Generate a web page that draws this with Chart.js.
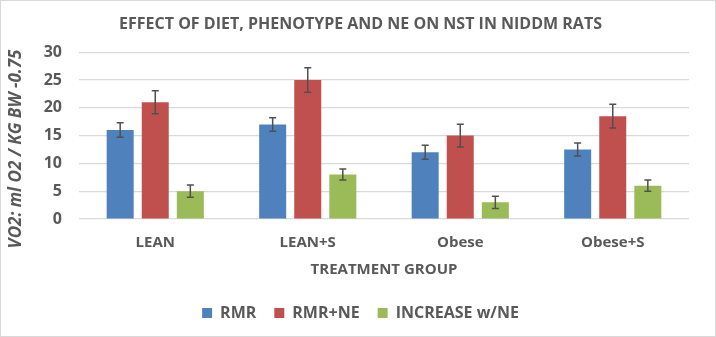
<!DOCTYPE html>
<html>
<head>
<meta charset="utf-8">
<script src="https://cdn.jsdelivr.net/npm/chart.js@4"></script>
<style>
html,body{margin:0;padding:0;background:#fff;}
#wrap{width:716px;height:337px;position:relative;}
</style>
</head>
<body>
<div id="wrap"><canvas id="c" width="716" height="337"></canvas></div>
<script>
const categories = ['LEAN', 'LEAN+S', 'Obese', 'Obese+S'];
const seriesNames = ['RMR', 'RMR+NE', 'INCREASE w/NE'];
const rmr = [16, 17, 12, 12.5];
const rmrNe = [21, 25, 15, 18.5];
const increase = [5, 8, 3, 6];
const rmrErr = [1.3, 1.2, 1.25, 1.15];
const rmrNeErr = [2.05, 2.2, 2.05, 2.15];
const increaseErr = [1.1, 1.0, 1.1, 1.0];
const yTicks = [0, 5, 10, 15, 20, 25, 30];
const yTitle = 'VO2: ml O2 / KG BW -0.75';

const FONT = "'Open Sans', sans-serif";
const GRAY = '#595959';

const errorBars = {
  id: 'errorBars',
  afterDatasetsDraw(chart) {
    const ctx = chart.ctx;
    const y = chart.scales.y;
    ctx.save();
    ctx.strokeStyle = '#505050';
    ctx.lineWidth = 1.5;
    chart.data.datasets.forEach((ds, i) => {
      const meta = chart.getDatasetMeta(i);
      meta.data.forEach((bar, j) => {
        const v = ds.data[j], e = ds.errors[j];
        const top = y.getPixelForValue(v + e);
        const bot = y.getPixelForValue(v - e);
        const x = bar.x;
        ctx.beginPath();
        ctx.moveTo(x, top); ctx.lineTo(x, bot);
        ctx.moveTo(x - 3.5, top); ctx.lineTo(x + 3.5, top);
        ctx.moveTo(x - 3.5, bot); ctx.lineTo(x + 3.5, bot);
        ctx.stroke();
      });
    });
    ctx.restore();
  }
};

const frameAndYTitle = {
  id: 'frameAndYTitle',
  afterDraw(chart) {
    const ctx = chart.ctx;
    ctx.save();
    ctx.strokeStyle = '#d9d9d9';
    ctx.lineWidth = 1;
    ctx.strokeRect(0.5, 0.5, chart.width - 1, chart.height - 1);
    ctx.translate(16, 149);
    ctx.rotate(-Math.PI / 2);
    ctx.fillStyle = GRAY;
    ctx.font = "italic bold 17px " + FONT;
    ctx.textAlign = 'center';
    ctx.textBaseline = 'middle';
    ctx.fillText(yTitle, 0, 0);
    ctx.restore();
  }
};

new Chart(document.getElementById('c'), {
  type: 'bar',
  data: {
    labels: categories,
    datasets: [
      { label: seriesNames[0], data: rmr, errors: rmrErr, backgroundColor: '#4F81BD' },
      { label: seriesNames[1], data: rmrNe, errors: rmrNeErr, backgroundColor: '#C0504D' },
      { label: seriesNames[2], data: increase, errors: increaseErr, backgroundColor: '#9BBB59' }
    ]
  },
  options: {
    responsive: false,
    animation: false,
    devicePixelRatio: 1,
    categoryPercentage: 0.69,
    barPercentage: 0.77,
    layout: { padding: { left: 32, right: 27, top: 0, bottom: 6 } },
    plugins: {
      title: {
        display: true,
        text: 'EFFECT OF DIET, PHENOTYPE AND NE ON NST IN NIDDM RATS',
        color: GRAY,
        font: { family: FONT, size: 16, weight: 'bold' },
        padding: { top: 15, bottom: 18 }
      },
      legend: {
        position: 'bottom',
        labels: {
          color: GRAY,
          font: { family: FONT, size: 16, weight: 'bold' },
          boxWidth: 10, boxHeight: 10, padding: 18
        }
      },
      tooltip: { enabled: false }
    },
    scales: {
      x: {
        afterFit(scale) { scale.height = 68; },
        grid: { display: false },
        border: { display: false },
        ticks: { color: GRAY, font: { family: FONT, size: 15, weight: 'bold' }, padding: 7 },
        title: {
          display: true, text: 'TREATMENT GROUP', color: GRAY,
          font: { family: FONT, size: 15, weight: 'bold' }, padding: { top: 0, bottom: 8 }
        }
      },
      y: {
        min: 0, max: 30,
        afterBuildTicks(scale) { scale.ticks = yTicks.map(v => ({ value: v })); },
        afterFit(scale) { scale.width = 47; },
        grid: { color: '#d9d9d9', lineWidth: 1.2, drawTicks: false },
        border: { display: false },
        ticks: { color: GRAY, font: { family: FONT, size: 16, weight: 'bold' }, padding: 17 }
      }
    }
  },
  plugins: [errorBars, frameAndYTitle]
});
</script>
</body>
</html>
